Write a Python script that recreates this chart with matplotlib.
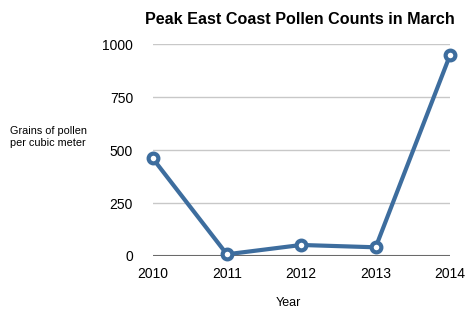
import matplotlib
matplotlib.use('Agg')
import matplotlib.pyplot as plt

# Peak pollen counts per year (grains per cubic meter)
years = [2010, 2011, 2012, 2013, 2014]
counts = [462, 8, 52, 41, 948]
y_ticks = [0, 250, 500, 750, 1000]

plt.rcParams['font.family'] = ['Liberation Sans', 'DejaVu Sans']

fig = plt.figure(figsize=(4.7, 3.22), dpi=100)
ax = fig.add_axes([0.3245, 0.205, 0.633, 0.658])

# grid lines, darker baseline at zero
for t in y_ticks:
    if t == 0:
        ax.axhline(t, color='#6a6a6a', lw=1.5, zorder=1)
    else:
        ax.axhline(t, color='#c8c8c8', lw=1.0, zorder=1)

ax.plot(years, counts, color='#3d6d9e', lw=3.0, marker='o', ms=7,
        mfc='white', mec='#3d6d9e', mew=3, clip_on=False, zorder=3)

ax.set_xlim(2010, 2014)
ax.set_ylim(0, 1000)
ax.set_xticks(years)
ax.set_yticks(y_ticks)
ax.tick_params(length=0, labelsize=10, colors='black')
ax.tick_params(axis='x', pad=8)
ax.tick_params(axis='y', pad=14)
for s in ax.spines.values():
    s.set_visible(False)

fig.text(0.638, 0.938, 'Peak East Coast Pollen Counts in March', ha='center',
         va='center', fontsize=11.6, fontweight='bold')
fig.text(0.021, 0.575, 'Grains of pollen\nper cubic meter', ha='left',
         va='center', fontsize=7.8, linespacing=1.3)
fig.text(0.613, 0.06, 'Year', ha='center', va='center', fontsize=9)

fig.savefig('out.png', dpi=100)
